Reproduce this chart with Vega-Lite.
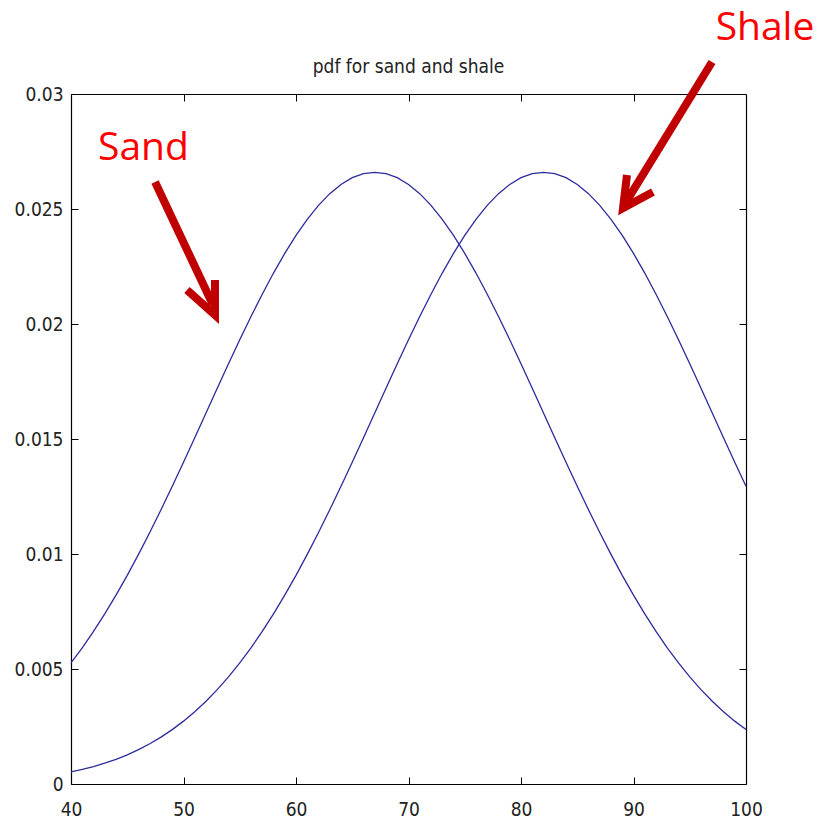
{
  "$schema": "https://vega.github.io/schema/vega-lite/v6.json",
  "autosize": {"type": "none"},
  "padding": {"left": 71, "top": 94, "right": 79, "bottom": 35},
  "width": 675,
  "height": 690,
  "background": "white",
  "config": {"view": {"stroke": null}},
  "title": {"text": "pdf for sand and shale", "frame": "group", "fontSize": 19, "font": "Liberation Sans Narrow, DejaVu Sans Condensed, Liberation Sans", "fontWeight": "normal", "color": "#222222", "offset": 20, "dy": 103, "baseline": "alphabetic", "anchor": "middle"},
  "datasets": {
    "curves": [
      {"x": 40, "pdf": 0.005263, "rock": "Sand"}, {"x": 41, "pdf": 0.005921, "rock": "Sand"}, {"x": 42, "pdf": 0.006632, "rock": "Sand"}, {"x": 43, "pdf": 0.007395, "rock": "Sand"}, {"x": 44, "pdf": 0.008209, "rock": "Sand"}, {"x": 45, "pdf": 0.009072, "rock": "Sand"}, {"x": 46, "pdf": 0.009982, "rock": "Sand"}, {"x": 47, "pdf": 0.010934, "rock": "Sand"}, {"x": 48, "pdf": 0.011924, "rock": "Sand"}, {"x": 49, "pdf": 0.012946, "rock": "Sand"}, {"x": 50, "pdf": 0.013993, "rock": "Sand"}, {"x": 51, "pdf": 0.015058, "rock": "Sand"}, {"x": 52, "pdf": 0.016131, "rock": "Sand"}, {"x": 53, "pdf": 0.017205, "rock": "Sand"}, {"x": 54, "pdf": 0.018269, "rock": "Sand"}, {"x": 55, "pdf": 0.019313, "rock": "Sand"}, {"x": 56, "pdf": 0.020326, "rock": "Sand"}, {"x": 57, "pdf": 0.021296, "rock": "Sand"}, {"x": 58, "pdf": 0.022215, "rock": "Sand"}, {"x": 59, "pdf": 0.02307, "rock": "Sand"}, {"x": 60, "pdf": 0.023852, "rock": "Sand"}, {"x": 61, "pdf": 0.024551, "rock": "Sand"}, {"x": 62, "pdf": 0.025159, "rock": "Sand"}, {"x": 63, "pdf": 0.025667, "rock": "Sand"}, {"x": 64, "pdf": 0.026069, "rock": "Sand"}, {"x": 65, "pdf": 0.026361, "rock": "Sand"}, {"x": 66, "pdf": 0.026537, "rock": "Sand"}, {"x": 67, "pdf": 0.026596, "rock": "Sand"}, {"x": 68, "pdf": 0.026537, "rock": "Sand"}, {"x": 69, "pdf": 0.026361, "rock": "Sand"}, {"x": 70, "pdf": 0.026069, "rock": "Sand"}, {"x": 71, "pdf": 0.025667, "rock": "Sand"}, {"x": 72, "pdf": 0.025159, "rock": "Sand"}, {"x": 73, "pdf": 0.024551, "rock": "Sand"}, {"x": 74, "pdf": 0.023852, "rock": "Sand"}, {"x": 75, "pdf": 0.02307, "rock": "Sand"}, {"x": 76, "pdf": 0.022215, "rock": "Sand"}, {"x": 77, "pdf": 0.021296, "rock": "Sand"}, {"x": 78, "pdf": 0.020326, "rock": "Sand"}, {"x": 79, "pdf": 0.019313, "rock": "Sand"}, {"x": 80, "pdf": 0.018269, "rock": "Sand"}, {"x": 81, "pdf": 0.017205, "rock": "Sand"}, {"x": 82, "pdf": 0.016131, "rock": "Sand"}, {"x": 83, "pdf": 0.015058, "rock": "Sand"}, {"x": 84, "pdf": 0.013993, "rock": "Sand"}, {"x": 85, "pdf": 0.012946, "rock": "Sand"}, {"x": 86, "pdf": 0.011924, "rock": "Sand"}, {"x": 87, "pdf": 0.010934, "rock": "Sand"}, {"x": 88, "pdf": 0.009982, "rock": "Sand"}, {"x": 89, "pdf": 0.009072, "rock": "Sand"}, {"x": 90, "pdf": 0.008209, "rock": "Sand"}, {"x": 91, "pdf": 0.007395, "rock": "Sand"}, {"x": 92, "pdf": 0.006632, "rock": "Sand"}, {"x": 93, "pdf": 0.005921, "rock": "Sand"}, {"x": 94, "pdf": 0.005263, "rock": "Sand"}, {"x": 95, "pdf": 0.004658, "rock": "Sand"}, {"x": 96, "pdf": 0.004103, "rock": "Sand"}, {"x": 97, "pdf": 0.003599, "rock": "Sand"}, {"x": 98, "pdf": 0.003143, "rock": "Sand"}, {"x": 99, "pdf": 0.002733, "rock": "Sand"}, {"x": 100, "pdf": 0.002365, "rock": "Sand"},
      {"x": 40, "pdf": 0.000528, "rock": "Shale"}, {"x": 41, "pdf": 0.000635, "rock": "Shale"}, {"x": 42, "pdf": 0.00076, "rock": "Shale"}, {"x": 43, "pdf": 0.000906, "rock": "Shale"}, {"x": 44, "pdf": 0.001074, "rock": "Shale"}, {"x": 45, "pdf": 0.001269, "rock": "Shale"}, {"x": 46, "pdf": 0.001493, "rock": "Shale"}, {"x": 47, "pdf": 0.001748, "rock": "Shale"}, {"x": 48, "pdf": 0.002038, "rock": "Shale"}, {"x": 49, "pdf": 0.002365, "rock": "Shale"}, {"x": 50, "pdf": 0.002733, "rock": "Shale"}, {"x": 51, "pdf": 0.003143, "rock": "Shale"}, {"x": 52, "pdf": 0.003599, "rock": "Shale"}, {"x": 53, "pdf": 0.004103, "rock": "Shale"}, {"x": 54, "pdf": 0.004658, "rock": "Shale"}, {"x": 55, "pdf": 0.005263, "rock": "Shale"}, {"x": 56, "pdf": 0.005921, "rock": "Shale"}, {"x": 57, "pdf": 0.006632, "rock": "Shale"}, {"x": 58, "pdf": 0.007395, "rock": "Shale"}, {"x": 59, "pdf": 0.008209, "rock": "Shale"}, {"x": 60, "pdf": 0.009072, "rock": "Shale"}, {"x": 61, "pdf": 0.009982, "rock": "Shale"}, {"x": 62, "pdf": 0.010934, "rock": "Shale"}, {"x": 63, "pdf": 0.011924, "rock": "Shale"}, {"x": 64, "pdf": 0.012946, "rock": "Shale"}, {"x": 65, "pdf": 0.013993, "rock": "Shale"}, {"x": 66, "pdf": 0.015058, "rock": "Shale"}, {"x": 67, "pdf": 0.016131, "rock": "Shale"}, {"x": 68, "pdf": 0.017205, "rock": "Shale"}, {"x": 69, "pdf": 0.018269, "rock": "Shale"}, {"x": 70, "pdf": 0.019313, "rock": "Shale"}, {"x": 71, "pdf": 0.020326, "rock": "Shale"}, {"x": 72, "pdf": 0.021296, "rock": "Shale"}, {"x": 73, "pdf": 0.022215, "rock": "Shale"}, {"x": 74, "pdf": 0.02307, "rock": "Shale"}, {"x": 75, "pdf": 0.023852, "rock": "Shale"}, {"x": 76, "pdf": 0.024551, "rock": "Shale"}, {"x": 77, "pdf": 0.025159, "rock": "Shale"}, {"x": 78, "pdf": 0.025667, "rock": "Shale"}, {"x": 79, "pdf": 0.026069, "rock": "Shale"}, {"x": 80, "pdf": 0.026361, "rock": "Shale"}, {"x": 81, "pdf": 0.026537, "rock": "Shale"}, {"x": 82, "pdf": 0.026596, "rock": "Shale"}, {"x": 83, "pdf": 0.026537, "rock": "Shale"}, {"x": 84, "pdf": 0.026361, "rock": "Shale"}, {"x": 85, "pdf": 0.026069, "rock": "Shale"}, {"x": 86, "pdf": 0.025667, "rock": "Shale"}, {"x": 87, "pdf": 0.025159, "rock": "Shale"}, {"x": 88, "pdf": 0.024551, "rock": "Shale"}, {"x": 89, "pdf": 0.023852, "rock": "Shale"}, {"x": 90, "pdf": 0.02307, "rock": "Shale"}, {"x": 91, "pdf": 0.022215, "rock": "Shale"}, {"x": 92, "pdf": 0.021296, "rock": "Shale"}, {"x": 93, "pdf": 0.020326, "rock": "Shale"}, {"x": 94, "pdf": 0.019313, "rock": "Shale"}, {"x": 95, "pdf": 0.018269, "rock": "Shale"}, {"x": 96, "pdf": 0.017205, "rock": "Shale"}, {"x": 97, "pdf": 0.016131, "rock": "Shale"}, {"x": 98, "pdf": 0.015058, "rock": "Shale"}, {"x": 99, "pdf": 0.013993, "rock": "Shale"}, {"x": 100, "pdf": 0.012946, "rock": "Shale"}
    ],
    "shafts": [
      {"x": 47.47, "pdf": 0.026174, "x2": 52.6, "pdf2": 0.02085},
      {"x": 96.98, "pdf": 0.031391, "x2": 89.4, "pdf2": 0.02535}
    ],
    "heads": [
      {"seg": "sand", "ord": 1, "x": 50.31, "pdf": 0.021478},
      {"seg": "sand", "ord": 2, "x": 52.8, "pdf": 0.020391},
      {"seg": "sand", "ord": 3, "x": 52.8, "pdf": 0.021913},
      {"seg": "shale", "ord": 1, "x": 89.42, "pdf": 0.026478},
      {"seg": "shale", "ord": 2, "x": 89.07, "pdf": 0.025043},
      {"seg": "shale", "ord": 3, "x": 91.73, "pdf": 0.025739}
    ],
    "labels": [
      {"x": 42.4, "pdf": 0.02713, "label": "Sand"},
      {"x": 97.3, "pdf": 0.032348, "label": "Shale"}
    ]
  },
  "resolve": {"axis": {"x": "independent", "y": "independent"}},
  "layer": [
    {
      "data": {"name": "curves"},
      "mark": {"type": "line", "color": "#2b2b9e", "strokeWidth": 1.3},
      "encoding": {
        "x": {"field": "x", "type": "quantitative", "scale": {"domain": [40, 100], "nice": false, "zero": false},
          "axis": {"orient": "bottom", "title": null, "values": [40, 50, 60, 70, 80, 90, 100], "grid": false, "domainColor": "#000000", "domainWidth": 1.2, "tickColor": "#000000", "tickSize": -7, "labelPadding": 23, "labelFontSize": 19, "labelFont": "Liberation Sans Narrow, DejaVu Sans Condensed, Liberation Sans", "labelColor": "#222222", "labelFlush": false}},
        "y": {"field": "pdf", "type": "quantitative", "scale": {"domain": [0, 0.03], "nice": false},
          "axis": {"orient": "left", "title": null, "values": [0, 0.005, 0.01, 0.015, 0.02, 0.025, 0.03], "format": "~g", "grid": false, "domainColor": "#000000", "domainWidth": 1.2, "tickColor": "#000000", "tickSize": -7, "labelPadding": 15, "labelFontSize": 19, "labelFont": "Liberation Sans Narrow, DejaVu Sans Condensed, Liberation Sans", "labelColor": "#222222", "labelFlush": false}},
        "detail": {"field": "rock"}
      }
    },
    {
      "data": {"name": "curves"},
      "mark": {"type": "point", "opacity": 0},
      "encoding": {
        "x": {"field": "x", "type": "quantitative", "axis": {"orient": "top", "title": null, "labels": false, "values": [50, 60, 70, 80, 90], "grid": false, "domainColor": "#000000", "domainWidth": 1.2, "tickColor": "#000000", "tickSize": -7}},
        "y": {"field": "pdf", "type": "quantitative", "axis": {"orient": "right", "title": null, "labels": false, "values": [0.005, 0.01, 0.015, 0.02, 0.025], "grid": false, "domainColor": "#000000", "domainWidth": 1.2, "tickColor": "#000000", "tickSize": -7}}
      }
    },
    {
      "data": {"name": "shafts"},
      "mark": {"type": "rule", "color": "#c00000", "strokeWidth": 8},
      "encoding": {
        "x": {"field": "x", "type": "quantitative", "axis": null},
        "y": {"field": "pdf", "type": "quantitative", "axis": null},
        "x2": {"field": "x2"},
        "y2": {"field": "pdf2"}
      }
    },
    {
      "data": {"name": "heads"},
      "mark": {"type": "line", "color": "#c00000", "strokeWidth": 8, "strokeJoin": "miter", "strokeCap": "butt"},
      "encoding": {
        "x": {"field": "x", "type": "quantitative", "axis": null},
        "y": {"field": "pdf", "type": "quantitative", "axis": null},
        "detail": {"field": "seg"},
        "order": {"field": "ord"}
      }
    },
    {
      "data": {"name": "labels"},
      "mark": {"type": "text", "color": "#ff0000", "fontSize": 39, "font": "Open Sans", "align": "left", "baseline": "alphabetic"},
      "encoding": {
        "x": {"field": "x", "type": "quantitative", "axis": null},
        "y": {"field": "pdf", "type": "quantitative", "axis": null},
        "text": {"field": "label"}
      }
    }
  ]
}
